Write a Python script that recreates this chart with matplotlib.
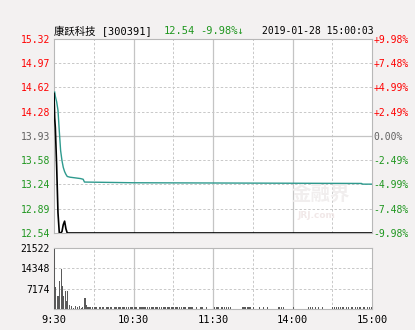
import matplotlib
matplotlib.use("Agg")
import matplotlib.pyplot as plt
import numpy as np

# --- données ---
stock_name = "康跃科技 [300391]"
last_price = "12.54"
change_pct = "-9.98%↓"
timestamp = "2019-01-28 15:00:03"

price_ticks = ["15.32", "14.97", "14.62", "14.28", "13.93", "13.58", "13.24", "12.89", "12.54"]
pct_ticks = ["+9.98%", "+7.48%", "+4.99%", "+2.49%", "0.00%", "-2.49%", "-4.99%", "-7.48%", "-9.98%"]
vol_ticks = [21522, 14348, 7174]
time_ticks = [0, 60, 120, 180, 240]
time_labels = ["9:30", "10:30", "11:30", "14:00", "15:00"]

# prix (minute, prix)
price_min = [0, 0.5, 1, 2, 3, 4, 5, 6, 7, 8, 9, 10, 240]
price_val = [14.54, 14.19, 14.05, 13.50, 12.83, 12.54, 12.54, 12.56, 12.66, 12.71, 12.60, 12.54, 12.54]

# prix moyen (minute, prix)
avg_min = [0.5, 1, 2, 3, 4, 5, 6, 7, 8, 9, 10, 12, 20, 22, 23, 60, 232, 233, 240]
avg_val = [14.56, 14.50, 14.42, 14.30, 14.00, 13.72, 13.58, 13.48, 13.42, 13.38, 13.35,
           13.34, 13.32, 13.31, 13.27, 13.26, 13.25, 13.24, 13.24]

# volumes principaux
vol_min = [0, 1, 2, 3, 4, 5, 6, 7, 8, 9, 10, 11, 23, 24]
vol_val = [21100, 7800, 4600, 4600, 9900, 14100, 8100, 4600, 6400, 2900, 6400, 1400, 4000, 1400]

# petits volumes
small_min = [13, 14, 16, 17, 19, 20, 21,
             25, 26, 27, 29, 30, 31, 32, 34, 35, 36, 37, 39, 40, 41, 42, 43, 45, 46, 47, 48, 49,
             50, 51, 52, 53, 54, 56, 57, 58, 59, 60, 61, 62, 64, 65, 66, 67, 68, 69, 70, 72, 73,
             74, 75, 76, 77, 78, 79, 81, 82, 83, 84, 85, 86, 87, 88, 89,
             90, 91, 92, 93, 94, 96, 97, 98, 99, 101, 102, 103, 104,
             107, 110, 111, 112, 115,
             121, 122, 123, 124, 126, 127, 128, 130, 131, 133,
             142, 143, 144, 146, 147, 148, 150,
             155, 158, 161,
             169, 170, 171, 173,
             180,
             192, 193, 195, 197, 199, 202,
             210, 211, 213, 214, 216, 217, 218, 220, 222, 224, 225, 227,
             229, 230, 231, 233, 234, 236, 238, 239, 240]
small_val = [900, 500, 900, 600, 900, 500, 700,
             600, 700, 600, 700, 600, 700, 600, 600, 700, 600, 700, 600, 700, 600, 700, 600, 700, 600, 700, 600, 700,
             600, 700, 600, 700, 600, 700, 600, 700, 600, 700, 600, 700, 600, 700, 600, 700, 600, 700, 600, 700, 600,
             700, 600, 700, 600, 700, 600, 700, 600, 700, 600, 700, 600, 700, 600, 700,
             600, 700, 600, 700, 600, 700, 600, 700, 600, 700, 600, 700, 600,
             700, 600, 700, 600, 700,
             700, 600, 700, 600, 700, 600, 700, 600, 700, 600,
             700, 600, 700, 600, 700, 600, 700,
             600, 700, 600,
             700, 600, 700, 600,
             700,
             600, 700, 600, 700, 600, 700,
             600, 700, 600, 700, 600, 700, 600, 700, 600, 700, 600, 700,
             600, 700, 600, 700, 600, 700, 600, 700, 600]

RED = "#ff0000"
GREEN = "#1e961e"
GRAY = "#606060"
GRID = "#c8c8c8"
TEAL = "#2e9a8e"

plt.rcParams['font.family'] = ['DejaVu Sans Mono', 'DejaVu Sans']

fig = plt.figure(figsize=(4.15, 3.30), dpi=100)
fig.patch.set_facecolor("#f3f1f1")

L, R = 54 / 415, 372 / 415
ax = fig.add_axes([L, 1 - 233 / 330, R - L, (233 - 39) / 330])
axv = fig.add_axes([L, 1 - 309 / 330, R - L, (309 - 248) / 330])


def style_axes(a):
    a.set_facecolor("white")
    for s in a.spines.values():
        s.set_color("#b8b8b8")
        s.set_linewidth(0.8)
    a.tick_params(length=0)
    for t in [30, 90, 150, 210]:
        a.axvline(t, color=GRID, lw=0.7, ls=(0, (2.5, 2)), zorder=0)
    for t in [60, 120, 180]:
        a.axvline(t, color="#c4c4c4", lw=0.9, zorder=0)


# --- panneau des prix ---
style_axes(ax)
ymin, ymax = 12.54, 15.32
ax.set_xlim(0, 240)
ax.set_ylim(ymin, ymax)
levels = np.linspace(ymax, ymin, 9)
for i, lv in enumerate(levels[1:-1], start=1):
    if i == 4:
        ax.axhline(lv, color="#c4c4c4", lw=0.9, zorder=0)
    else:
        ax.axhline(lv, color=GRID, lw=0.7, ls=(0, (2.5, 2)), zorder=0)

# filigrane
ax.text(0.93, 0.2, "金融界", transform=ax.transAxes, ha="right", va="center",
        fontsize=14, fontweight="bold", color="#f1eeee", family="Noto Sans CJK SC", zorder=1)
ax.text(0.765, 0.09, "JRJ.com", transform=ax.transAxes, ha="left", va="center",
        fontsize=6.5, fontweight="bold", color="#f1e8e8", family="DejaVu Sans", zorder=1)

ax.plot(avg_min, avg_val, color=TEAL, lw=1.0, zorder=3)
ax.plot(price_min, price_val, color="black", lw=1.2, zorder=4)

ax.set_xticks([])
ax.set_yticks(levels)
ax.set_yticklabels(price_ticks, fontsize=7)
ax.tick_params(axis="y", pad=3)
for i, lab in enumerate(ax.get_yticklabels()):
    lab.set_color(RED if i < 4 else (GRAY if i == 4 else GREEN))

ax2 = ax.twinx()
ax2.set_ylim(ymin, ymax)
ax2.set_yticks(levels)
ax2.set_yticklabels(pct_ticks, fontsize=7)
ax2.tick_params(length=0, pad=1)
for s in ax2.spines.values():
    s.set_visible(False)
for i, lab in enumerate(ax2.get_yticklabels()):
    lab.set_color(RED if i < 4 else (GRAY if i == 4 else GREEN))

# --- panneau des volumes ---
style_axes(axv)
axv.set_xlim(0, 240)
axv.set_ylim(0, vol_ticks[0])
for v in vol_ticks[1:]:
    axv.axhline(v, color=GRID, lw=0.7, ls=(0, (2.5, 2)), zorder=0)
axv.bar(vol_min, vol_val, width=0.8, color="#5a5a5a", align="edge", zorder=3)
axv.bar(small_min, small_val, width=0.8, color="#5a5a5a", align="edge", zorder=3)
axv.set_yticks(vol_ticks)
axv.set_yticklabels([str(v) for v in vol_ticks], fontsize=7, color="black")
axv.tick_params(axis="y", pad=3)
axv.set_xticks(time_ticks)
axv.set_xticklabels(time_labels, fontsize=7.5)
axv.tick_params(axis="x", pad=4)

# --- en-tête ---
ty = 1 - 31 / 330
fig.text(54 / 415, ty, stock_name, fontsize=7.5, va="center",
         family=["DejaVu Sans Mono", "Noto Sans CJK SC"])
fig.text(164 / 415, ty, last_price, fontsize=7.5, va="center", color=GREEN)
fig.text(200 / 415, ty, change_pct, fontsize=7.5, va="center", color=GREEN)
fig.text(262 / 415, ty, timestamp, fontsize=7, va="center", color="black")

fig.savefig("out.png", dpi=100, facecolor=fig.get_facecolor())
